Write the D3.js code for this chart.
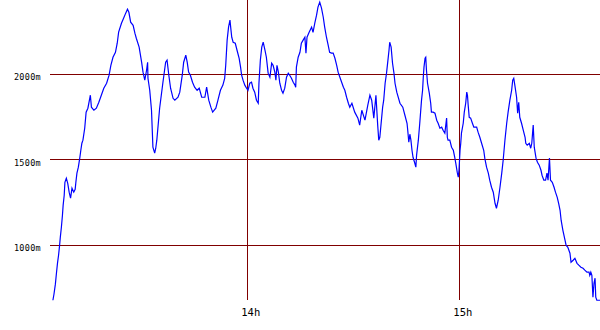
<!DOCTYPE html>
<html>
<head>
<meta charset="utf-8">
<script src="https://cdn.jsdelivr.net/npm/d3@7"></script>
<style>
  body { margin: 0; background: #fff; }
  svg { display: block; }
  .tick text { font-family: "DejaVu Sans Mono", monospace; fill: #000; }
  .domain { display: none; }
</style>
</head>
<body>
<svg width="600" height="330"></svg>
<script>
// minutes after 13:00
var minutes = [
  5.0, 5.3, 5.7, 6.0, 6.3, 6.6, 6.9, 7.1, 7.4, 7.7, 7.9, 8.2, 8.4, 8.8, 9.2, 9.6, 10.0, 10.4, 10.9, 11.3,
  11.5, 11.8, 12.2, 12.6, 12.9, 13.2, 13.5, 14.0, 14.4, 14.9, 15.6, 15.9, 16.6, 17.3, 18.0, 18.7, 19.4, 20.2, 20.9, 21.4,
  22.0, 22.7, 23.2, 23.6, 24.4, 25.0, 25.6, 26.1, 26.5, 27.0, 27.7, 28.2, 28.6, 29.4, 30.1, 30.5, 31.0, 31.5, 31.8, 31.9,
  32.4, 32.9, 33.3, 33.8, 34.1, 34.4, 35.2, 36.1, 36.9, 37.3, 37.8, 38.3, 39.0, 39.5, 40.4, 40.9, 41.6, 42.0, 42.6, 43.0,
  43.4, 43.9, 44.5, 45.1, 45.8, 46.4, 47.1, 48.0, 48.5, 49.1, 49.7, 50.2, 51.1, 51.7, 52.4, 53.1, 53.6, 53.9, 54.3, 54.7,
  55.1, 55.3, 55.6, 56.0, 56.6, 57.1, 57.7, 58.1, 58.4, 58.8, 59.3, 59.8, 60.2, 60.7, 61.2, 61.6, 62.1, 62.6, 63.1, 63.3,
  63.7, 64.1, 64.5, 65.0, 65.4, 65.9, 66.4, 66.9, 67.3, 67.8, 68.1, 68.4, 68.8, 69.2, 69.7, 70.1, 70.6, 71.1, 71.6, 72.0,
  72.5, 73.0, 73.5, 73.7, 73.9, 74.4, 74.9, 75.3, 75.8, 76.3, 76.6, 76.9, 77.5, 78.2, 78.6, 79.1, 79.6, 80.0, 80.5, 81.0,
  81.5, 81.9, 82.4, 82.9, 83.3, 83.8, 84.3, 84.8, 85.3, 85.7, 86.2, 86.7, 87.2, 87.6, 88.1, 88.6, 89.0, 89.6, 90.4, 91.3,
  91.8, 92.4, 93.3, 94.1, 94.7, 95.2, 95.8, 96.4, 96.9, 97.2, 97.5, 98.3, 98.6, 99.0, 99.4, 99.8, 100.1, 100.3, 100.7, 101.1,
  101.5, 101.8, 102.3, 103.2, 104.0, 104.6, 105.2, 105.4, 105.7, 106.0, 106.3, 106.6, 106.9, 107.4, 107.7, 107.9, 108.4, 108.8, 109.3, 109.6,
  109.8, 110.0, 110.3, 110.5, 110.7, 111.0, 111.5, 111.9, 112.1, 112.6, 113.1, 113.6, 114.0, 114.5, 115.0, 115.4, 115.9, 116.4, 116.6, 116.8,
  117.3, 117.8, 118.3, 118.7, 119.0, 119.4, 119.7, 119.9, 120.2, 120.4, 120.6, 121.1, 121.4, 121.8, 122.1, 122.3, 122.5, 122.8, 123.2, 123.7,
  124.1, 124.9, 125.3, 125.8, 126.3, 126.9, 127.2, 127.7, 128.2, 128.6, 129.1, 129.6, 130.1, 130.5, 131.0, 131.5, 132.0, 132.4, 132.9, 133.4,
  133.8, 134.3, 134.8, 135.1, 135.4, 135.7, 136.2, 136.5, 136.8, 137.1, 137.6, 138.1, 138.6, 138.8, 139.2, 139.8, 140.2, 140.5, 140.9, 141.2,
  141.7, 142.1, 142.6, 143.1, 143.4, 143.9, 144.4, 144.8, 145.1, 145.5, 145.8, 146.3, 146.8, 147.2, 147.7, 148.1, 148.5, 148.8, 149.3, 149.9,
  150.2, 150.7, 151.3, 151.6, 152.2, 152.7, 153.3, 153.8, 154.4, 155.0, 155.5, 156.1, 156.7, 156.9, 157.2, 157.5, 157.8, 158.1, 158.4, 158.6,
  158.9, 159.8
];
// altitude in metres
var altitude = [
  674, 709, 768, 832, 891, 937, 996, 1043, 1101, 1171, 1230, 1288, 1364, 1388, 1358, 1306, 1271, 1329, 1306, 1323,
  1364, 1417, 1452, 1505, 1551, 1592, 1610, 1680, 1774, 1797, 1873, 1803, 1785, 1797, 1832, 1873, 1914, 1943, 1990, 2048,
  2095, 2124, 2177, 2242, 2294, 2323, 2353, 2376, 2358, 2300, 2282, 2236, 2206, 2154, 2066, 2008, 1961, 2019, 2066, 1972,
  1902, 1785, 1569, 1534, 1563, 1610, 1797, 1943, 2066, 2078, 1990, 1914, 1855, 1844, 1861, 1891, 1990, 2066, 2107, 2066,
  2008, 1990, 1949, 1920, 1902, 1914, 1861, 1861, 1920, 1844, 1803, 1774, 1797, 1844, 1902, 1932, 1972, 2048, 2195, 2271,
  2312, 2271, 2212, 2183, 2177, 2136, 2089, 2037, 1990, 1961, 1932, 1914, 1902, 1943, 1949, 1914, 1891, 1844, 1826, 1943,
  2078, 2154, 2183, 2136, 2095, 2002, 1978, 2060, 2048, 2008, 1961, 2048, 2008, 1943, 1902, 1885, 1914, 1978, 2002, 1990,
  1972, 1949, 1932, 1920, 2037, 2095, 2124, 2177, 2195, 2212, 2119, 2212, 2241, 2271, 2241, 2294, 2341, 2388, 2417, 2382,
  2329, 2271, 2212, 2165, 2124, 2119, 2119, 2089, 2048, 2008, 1978, 1949, 1920, 1902, 1861, 1826, 1803, 1826, 1774, 1739,
  1698, 1785, 1727, 1815, 1873, 1844, 1739, 1873, 1698, 1610, 1627, 1803, 1844, 1943, 2002, 2078, 2136, 2183, 2154, 2060,
  2002, 1943, 1891, 1826, 1803, 1756, 1709, 1668, 1598, 1645, 1610, 1551, 1510, 1475, 1452, 1522, 1610, 1709, 1844, 1902,
  1978, 2037, 2089, 2095, 2019, 1943, 1885, 1826, 1774, 1774, 1768, 1727, 1709, 1680, 1686, 1668, 1651, 1739, 1627, 1610,
  1610, 1569, 1551, 1510, 1475, 1423, 1394, 1434, 1551, 1592, 1651, 1709, 1774, 1826, 1891, 1873, 1815, 1744, 1739, 1709,
  1686, 1686, 1657, 1627, 1592, 1551, 1505, 1452, 1417, 1376, 1335, 1306, 1241, 1212, 1259, 1335, 1417, 1493, 1610, 1709,
  1774, 1844, 1902, 1961, 1972, 1932, 1861, 1768, 1832, 1744, 1709, 1668, 1627, 1592, 1581, 1592, 1563, 1592, 1698, 1569,
  1505, 1481, 1464, 1434, 1405, 1376, 1376, 1417, 1376, 1505, 1376, 1364, 1335, 1306, 1276, 1241, 1200, 1142, 1083, 1025,
  996, 984, 949, 896, 908, 919, 890, 879, 867, 861, 850, 838, 838, 820, 838, 820, 692, 773, 803, 692,
  674, 674
];
var hourTicks = [60, 120];
var hourLabels = ['14h', '15h'];
var altTicks = [1000, 1500, 2000];

var svg = d3.select('svg');
var plot = {left: 52, right: 600, top: 0, bottom: 300};

var data = minutes.map(function(m, i) { return {t: m, v: altitude[i]}; });

var x = d3.scaleLinear()
    .domain([5, 159.8])
    .range([52.9, 600]);

var y = d3.scaleLinear()
    .domain([1000, 2000])
    .range([244.5, 73.5]);

// horizontal grid lines
svg.selectAll('.hgrid')
    .data(altTicks)
  .enter().append('line')
    .attr('class', 'hgrid')
    .attr('x1', 50).attr('x2', plot.right)
    .attr('y1', function(d) { return Math.round(y(d)) + 0.5; })
    .attr('y2', function(d) { return Math.round(y(d)) + 0.5; })
    .attr('stroke', '#800000')
    .attr('stroke-width', 1)
    .attr('shape-rendering', 'crispEdges');

// vertical grid lines
svg.selectAll('.vgrid')
    .data(hourTicks)
  .enter().append('line')
    .attr('class', 'vgrid')
    .attr('x1', function(d) { return Math.round(x(d)) + 0.5; })
    .attr('x2', function(d) { return Math.round(x(d)) + 0.5; })
    .attr('y1', 0).attr('y2', plot.bottom)
    .attr('stroke', '#800000')
    .attr('stroke-width', 1)
    .attr('shape-rendering', 'crispEdges');

// y axis labels
var yAxis = d3.axisLeft(y)
    .tickValues(altTicks)
    .tickSize(0)
    .tickPadding(0)
    .tickFormat(function(d) { return d + 'm'; });

svg.append('g')
    .attr('class', 'y axis')
    .attr('transform', 'translate(41,0)')
    .call(yAxis)
    .selectAll('text')
      .attr('font-size', '8.5px')
      .attr('dy', '6')
      .attr('letter-spacing', '0.3');

// x axis labels
var xAxis = d3.axisBottom(x)
    .tickValues(hourTicks)
    .tickSize(0)
    .tickPadding(0)
    .tickFormat(function(d, i) { return hourLabels[i]; });

svg.append('g')
    .attr('class', 'x axis')
    .attr('transform', 'translate(3,' + 309 + ')')
    .call(xAxis)
    .selectAll('text')
      .attr('font-size', '10.5px');

svg.append('clipPath')
    .attr('id', 'clip')
  .append('rect')
    .attr('x', plot.left).attr('y', plot.top)
    .attr('width', plot.right - plot.left)
    .attr('height', plot.bottom - plot.top + 1);

var line = d3.line()
    .x(function(d) { return x(d.t); })
    .y(function(d) { return y(d.v); });

svg.append('path')
    .datum(data)
    .attr('clip-path', 'url(#clip)')
    .attr('fill', 'none')
    .attr('stroke', '#0000ff')
    .attr('stroke-width', 1.2)
    .attr('d', line);
</script>
</body>
</html>
